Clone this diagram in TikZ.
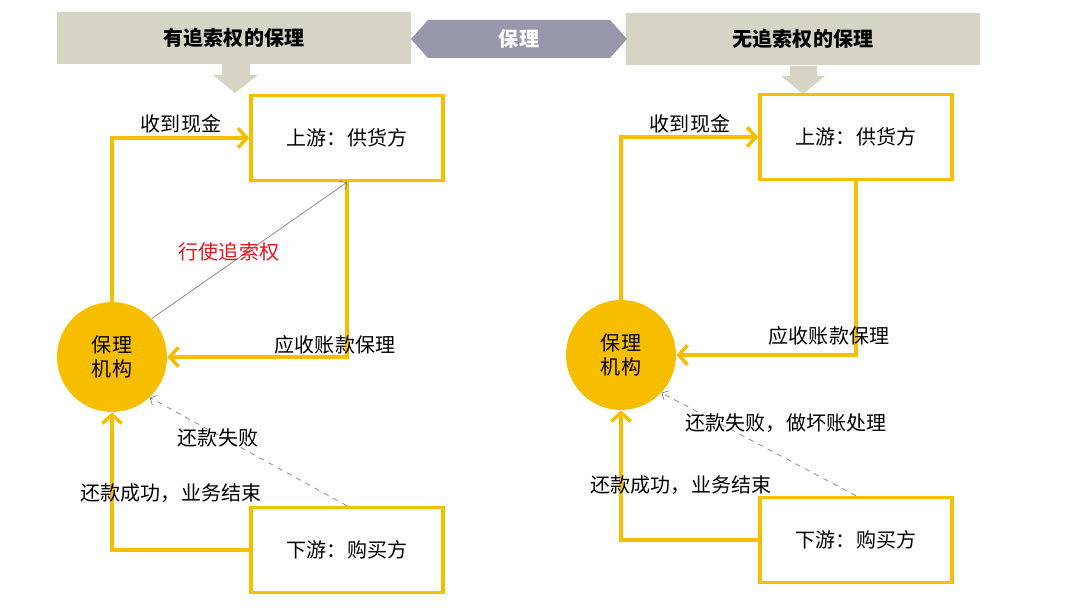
\documentclass[tikz,border=0pt]{standalone}
\usepackage{fontspec}
\setmainfont{Noto Sans CJK SC}
\usetikzlibrary{arrows.meta}
\definecolor{gold}{RGB}{247,190,0}
\definecolor{headfill}{RGB}{214,213,197}
\definecolor{midfill}{RGB}{150,151,170}
\definecolor{recourse}{RGB}{230,20,30}
\begin{document}
\begin{tikzpicture}[x=0.02cm, y=-0.02cm,
    font=\fontsize{11.4}{14}\selectfont,
    header/.style={fill=headfill, minimum width=7.08cm, minimum height=1.06cm, font=\fontsize{11.4}{14}\selectfont\bfseries},
    party/.style={draw=gold, line width=2pt, minimum width=3.84cm, minimum height=1.7cm},
    factor/.style={circle, fill=gold, minimum size=2.2cm, inner sep=0pt, align=center},
    flow/.style={draw=gold, line width=2pt, -{Straight Barb[length=5pt,width=11pt,line width=2pt]}},
    recline/.style={draw=gray, line width=0.4pt, -{Straight Barb[length=3pt,width=6pt]}},
    failline/.style={draw=gray, dashed, line width=0.4pt, -{Straight Barb[length=3pt,width=6pt]}},
    lbl/.style={inner sep=1pt}]
    \useasboundingbox (0,0) rectangle (1080,608);

    % headers
    \node[header] (hdL) at (234,38) {有追索权的保理};
    \node[header] (hdR) at (803,39) {无追索权的保理};
    \fill[headfill] (222,64) -- (250,64) -- (250,75) -- (258,75) -- (235,93) -- (213,75) -- (222,75) -- cycle;
    \fill[headfill] (790,66) -- (817,66) -- (817,76) -- (825,76) -- (803,94) -- (781,76) -- (790,76) -- cycle;
    \fill[midfill] (411,39) -- (428,20) -- (610,20) -- (627,39) -- (610,58) -- (428,58) -- cycle;
    \node[text=white, font=\fontsize{11.4}{14}\selectfont\bfseries] (mid) at (519,39) {保理};

    % with recourse
    \node[party] (upL) at (347,138) {上游：供货方};
    \node[party] (downL) at (347,550) {下游：购买方};
    \node[factor] (orgL) at (112,357) {保理\\机构};
    \draw[flow] (orgL.north) |- (upL.west);
    \draw[flow] (upL.south) |- (orgL.east);
    \draw[flow] (downL.west) -| (orgL.south);
    \draw[recline] (orgL.44) -- (upL.south);
    \draw[failline] (downL.north) -- (orgL.-47);
    \node[lbl] at (181,124) {收到现金};
    \node[lbl] at (335,345) {应收账款保理};
    \node[lbl, text=recourse] at (229,252) {行使追索权};
    \node[lbl] at (218,438) {还款失败};
    \node[lbl] at (171,493) {还款成功，业务结束};

    % without recourse
    \node[party] (upR) at (856,137) {上游：供货方};
    \node[party] (downR) at (856,540) {下游：购买方};
    \node[factor] (orgR) at (621,355) {保理\\机构};
    \draw[flow] (orgR.north) |- (upR.west);
    \draw[flow] (upR.south) |- (orgR.east);
    \draw[flow] (downR.west) -| (orgR.south);
    \draw[failline] (downR.north) -- (orgR.-43);
    \node[lbl] at (690,124) {收到现金};
    \node[lbl] at (829,336) {应收账款保理};
    \node[lbl] at (786,423) {还款失败，做坏账处理};
    \node[lbl] at (681,485) {还款成功，业务结束};
\end{tikzpicture}
\end{document}
